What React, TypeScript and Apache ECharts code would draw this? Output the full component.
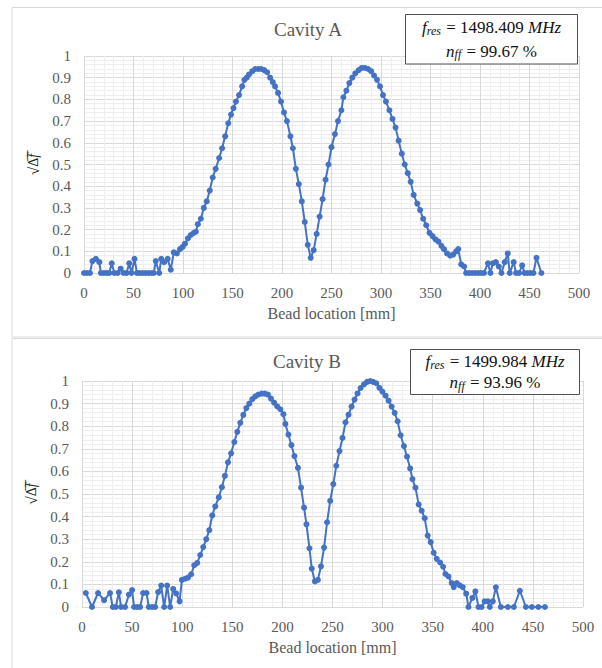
import React, { useEffect, useRef } from "react";
import * as echarts from "echarts";

// Cavity A – bead location [mm] and sqrt(Δf)
const cavityAX = [0, 3, 6, 8.5, 12, 15.5, 17, 20, 23, 25.5, 28, 30.6, 34, 37, 40, 43, 45.7, 48, 51, 53.5, 56, 59, 62, 65, 68, 70.5, 72.5, 76, 78, 81, 84.5, 87.6, 90.7, 93.8, 97, 99.6, 102, 105, 107.8, 111, 113, 115, 118, 121, 124, 127, 130, 133, 136.5, 139.5, 142.6, 145.7, 148.5, 151, 153.5, 156.6, 159.7, 162, 164.4, 166.7, 170, 173, 176, 179, 182, 185, 188, 190.7, 193, 196, 199, 202, 205, 208.5, 211, 214, 217, 220, 223, 226, 229, 232, 235, 238, 241, 244, 247, 250, 253.5, 256.6, 260, 262, 265, 268, 271, 274, 277.5, 280.6, 283.7, 287, 290, 293, 296, 299, 302, 305, 308.5, 311.6, 314.7, 317.8, 321, 324, 327, 330, 333, 336.6, 339.5, 342.6, 345.7, 349, 352, 355, 358, 361, 363.6, 366.7, 369.8, 373, 376, 378, 381, 384, 386, 389, 392, 395, 398, 401, 404, 408, 410.5, 413, 416, 419, 421.7, 425, 428, 430, 434, 436.4, 439.5, 442.6, 445, 448, 451, 454, 457, 462];
const cavityAY = [0, 0, 0, 0.055, 0.065, 0.05, 0, 0, 0, 0, 0.045, 0, 0, 0.02, 0, 0, 0.045, 0, 0.065, 0, 0, 0, 0, 0, 0, 0, 0.055, 0, 0.065, 0.05, 0.065, 0.015, 0.095, 0.09, 0.11, 0.12, 0.135, 0.16, 0.175, 0.185, 0.19, 0.225, 0.25, 0.3, 0.33, 0.38, 0.44, 0.48, 0.53, 0.575, 0.63, 0.69, 0.73, 0.76, 0.79, 0.82, 0.86, 0.89, 0.9, 0.915, 0.93, 0.94, 0.94, 0.94, 0.935, 0.925, 0.9, 0.88, 0.86, 0.83, 0.79, 0.74, 0.7, 0.63, 0.575, 0.48, 0.41, 0.33, 0.235, 0.13, 0.07, 0.105, 0.18, 0.26, 0.34, 0.43, 0.5, 0.58, 0.64, 0.7, 0.75, 0.81, 0.84, 0.875, 0.9, 0.92, 0.935, 0.945, 0.945, 0.94, 0.93, 0.91, 0.89, 0.86, 0.82, 0.79, 0.75, 0.71, 0.67, 0.61, 0.55, 0.5, 0.46, 0.42, 0.36, 0.32, 0.29, 0.25, 0.22, 0.185, 0.17, 0.155, 0.145, 0.125, 0.11, 0.09, 0.08, 0.085, 0.1, 0.11, 0.04, 0.03, 0, 0, 0, 0, 0, 0, 0, 0.045, 0, 0.045, 0.05, 0.03, 0, 0.05, 0.09, 0, 0.05, 0, 0, 0.035, 0, 0, 0, 0, 0.07, 0];

// Cavity B – bead location [mm] and sqrt(Δf)
const cavityBX = [3.8, 10, 16, 22, 28, 30.7, 33.7, 36.8, 39, 43, 46.8, 50, 52, 55, 58, 61, 64.4, 66.7, 70, 73, 76, 79, 82, 85, 88, 91, 94, 97.4, 99.7, 102.8, 105.8, 109, 112, 115, 118, 121, 124, 127, 130, 133, 136.5, 139.6, 142.6, 145.7, 148.8, 152, 155, 158, 161, 164, 167, 170, 173, 176, 179.4, 182.5, 185.6, 188.6, 191.7, 194.8, 198, 201, 203, 206, 209, 212, 215.5, 218.6, 221.6, 224, 227, 229.3, 232.4, 235.4, 238.5, 241.6, 244.6, 247.7, 250.8, 253.8, 257, 260, 263, 266, 269, 272, 275, 278, 281.4, 284.5, 287.6, 290.6, 293.7, 296.8, 299.8, 303, 306, 309, 312, 315, 318, 321.3, 324.4, 327.5, 329.8, 332.8, 336, 339, 342, 345, 348, 351, 354, 357.4, 360.4, 362.7, 365.8, 369, 371, 374, 377, 380, 383.4, 385.7, 389.6, 392.6, 395.7, 398.8, 401.8, 405, 407, 410, 413, 418, 425, 431, 437, 443, 449, 455.5, 462];
const cavityBY = [0.062, 0, 0.062, 0.03, 0.062, 0, 0, 0.065, 0, 0, 0.055, 0.075, 0, 0, 0, 0.062, 0.062, 0, 0, 0, 0.066, 0.095, 0, 0.095, 0, 0.08, 0.06, 0.025, 0.12, 0.125, 0.13, 0.145, 0.185, 0.195, 0.23, 0.265, 0.3, 0.34, 0.405, 0.445, 0.485, 0.53, 0.58, 0.64, 0.68, 0.73, 0.775, 0.815, 0.85, 0.88, 0.9, 0.92, 0.932, 0.94, 0.944, 0.944, 0.94, 0.922, 0.904, 0.888, 0.875, 0.853, 0.81, 0.763, 0.716, 0.668, 0.616, 0.528, 0.44, 0.366, 0.26, 0.17, 0.113, 0.12, 0.18, 0.263, 0.375, 0.47, 0.544, 0.625, 0.69, 0.748, 0.817, 0.851, 0.887, 0.918, 0.945, 0.969, 0.985, 0.996, 1.0, 0.996, 0.99, 0.97, 0.953, 0.935, 0.913, 0.887, 0.859, 0.822, 0.76, 0.712, 0.665, 0.613, 0.566, 0.528, 0.454, 0.426, 0.393, 0.316, 0.287, 0.24, 0.213, 0.197, 0.178, 0.146, 0.135, 0.106, 0.088, 0.106, 0.096, 0.088, 0.059, 0, 0.04, 0.069, 0, 0, 0.025, 0.025, 0, 0.025, 0.087, 0, 0, 0, 0.072, 0, 0, 0, 0];

const titles = ["Cavity A", "Cavity B"];
const freqs = ["1498.409", "1499.984"];
const fillFactors = ["99.67", "93.96"];
const xAxisTitle = "Bead location [mm]";

const SERIF = "Liberation Serif";
const GRAY = "#595959";
const BLUE = "#4472C4";

function makeAxes(gridIndex: number) {
  const xAxis = {
    type: "value",
    gridIndex,
    min: 0,
    max: 500,
    interval: 50,
    axisLine: { show: false },
    axisTick: { show: false },
    axisLabel: { fontFamily: SERIF, fontSize: 15, color: GRAY, margin: 12 },
    splitLine: { show: true, lineStyle: { color: "#d9d9d9", width: 1 } },
    minorTick: { show: false, splitNumber: 5 },
    minorSplitLine: { show: true, lineStyle: { color: "#eeeeee", width: 1 } },
    name: xAxisTitle,
    nameLocation: "middle",
    nameGap: 32,
    nameTextStyle: { fontFamily: SERIF, fontSize: 16, color: GRAY },
  };
  const yAxis = {
    type: "value",
    gridIndex,
    min: 0,
    max: 1,
    interval: 0.1,
    axisLine: { show: false },
    axisTick: { show: false },
    axisLabel: {
      fontFamily: SERIF,
      fontSize: 15,
      color: GRAY,
      margin: 13,
      formatter: (v: number) => String(+v.toFixed(1)),
    },
    splitLine: { show: true, lineStyle: { color: "#d9d9d9", width: 1 } },
    minorTick: { show: false, splitNumber: 5 },
    minorSplitLine: { show: true, lineStyle: { color: "#eeeeee", width: 1 } },
    name: "{a|√}{b|Δ̅}{c|f̅}",
    nameLocation: "middle",
    nameRotate: 90,
    nameGap: 37,
    nameTextStyle: {
      fontFamily: SERIF,
      rich: {
        a: { fontFamily: SERIF, fontSize: 15, color: "#222" },
        b: { fontFamily: SERIF, fontSize: 14, color: "#222" },
        c: { fontFamily: SERIF, fontSize: 14, fontStyle: "italic", color: "#222" },
      },
    },
  };
  return { xAxis, yAxis };
}

function infoBox(x: number, y: number, w: number, h: number, idx: number) {
  const rich = {
    i: { fontFamily: SERIF, fontSize: 17, lineHeight: 16, fontStyle: "italic", fill: "#111", color: "#111" },
    s: { fontFamily: SERIF, fontSize: 12, lineHeight: 10, fontStyle: "italic", fill: "#111", color: "#111", padding: [6, 1, 0, 0] },
    n: { fontFamily: SERIF, fontSize: 17, lineHeight: 16, fill: "#111", color: "#111" },
  };
  return {
    type: "group",
    children: [
      {
        type: "rect",
        shape: { x, y, width: w, height: h },
        style: { fill: "#ffffff", stroke: "#505050", lineWidth: 1 },
        z: 10,
      },
      {
        type: "text",
        x: x + w / 2,
        y: y + h * 0.27,
        z: 11,
        style: {
          text: `{i|f}{s|res}{n| = ${freqs[idx]} }{i|MHz}`,
          fontFamily: SERIF,
          textAlign: "center",
          textVerticalAlign: "middle",
          align: "center",
          verticalAlign: "middle",
          rich,
        },
      },
      {
        type: "text",
        x: x + w / 2,
        y: y + h * 0.74,
        z: 11,
        style: {
          text: `{i|n}{s|ff}{n| = ${fillFactors[idx]} %}`,
          fontFamily: SERIF,
          textAlign: "center",
          textVerticalAlign: "middle",
          align: "center",
          verticalAlign: "middle",
          rich,
        },
      },
    ],
  };
}

export default function App() {
  const ref = useRef<HTMLDivElement>(null);

  useEffect(() => {
    if (!ref.current) return;
    const chart = echarts.init(ref.current, undefined, { renderer: "svg" });
    const a = makeAxes(0);
    const b = makeAxes(1);
    const lineSeries = (idx: number, xs: number[], ys: number[]) => ({
      type: "line",
      xAxisIndex: idx,
      yAxisIndex: idx,
      data: xs.map((x, i) => [x, ys[i]]),
      symbol: "circle",
      symbolSize: 6,
      showSymbol: true,
      itemStyle: { color: BLUE },
      lineStyle: { color: BLUE, width: 2 },
      clip: false,
    });
    chart.setOption({
      animation: false,
      backgroundColor: "#ffffff",
      textStyle: { fontFamily: SERIF },
      grid: [
        { left: 84, top: 56, width: 495, height: 217 },
        { left: 82, top: 381, width: 501, height: 226 },
      ],
      xAxis: [a.xAxis, b.xAxis],
      yAxis: [a.yAxis, b.yAxis],
      series: [lineSeries(0, cavityAX, cavityAY), lineSeries(1, cavityBX, cavityBY)],
      graphic: [
        {
          type: "rect",
          shape: { x: 12, y: 7.5, width: 600, height: 329.5 },
          style: { fill: "none", stroke: "#d9d9d9", lineWidth: 1 },
          z: -1,
        },
        {
          type: "rect",
          shape: { x: 12, y: 338.5, width: 600, height: 340 },
          style: { fill: "none", stroke: "#d9d9d9", lineWidth: 1 },
          z: -1,
        },
        {
          type: "text",
          x: 308,
          y: 29,
          style: {
            text: titles[0],
            textAlign: "center",
            textVerticalAlign: "middle",
            align: "center",
            verticalAlign: "middle",
            fontFamily: SERIF,
            fontSize: 19,
            fill: GRAY,
          },
        },
        {
          type: "text",
          x: 307,
          y: 361,
          style: {
            text: titles[1],
            textAlign: "center",
            textVerticalAlign: "middle",
            align: "center",
            verticalAlign: "middle",
            fontFamily: SERIF,
            fontSize: 19,
            fill: GRAY,
          },
        },
        infoBox(405.5, 14.5, 172, 49.5, 0),
        infoBox(410.5, 349.5, 169, 45, 1),
      ],
    });
    return () => chart.dispose();
  }, []);

  return (
    <div
      ref={ref}
      style={{ position: "absolute", left: 0, top: 0, width: 602, height: 668 }}
    />
  );
}
